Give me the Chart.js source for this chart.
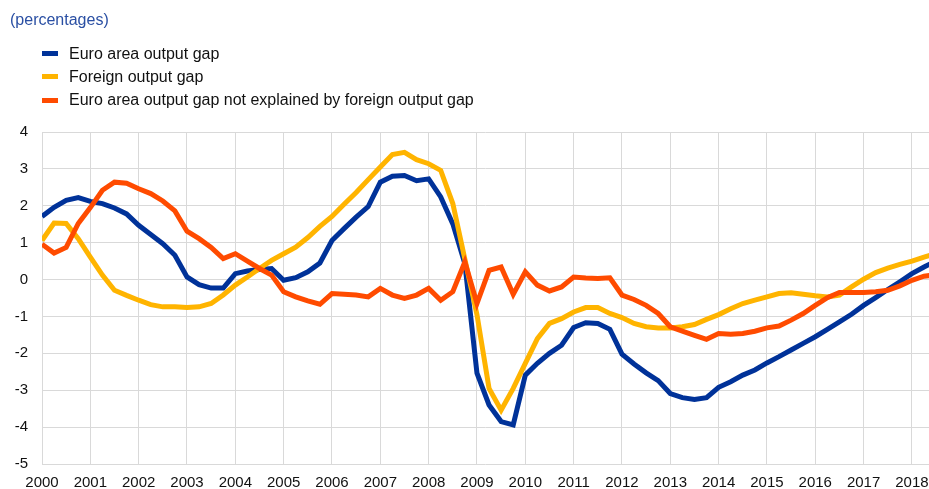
<!DOCTYPE html>
<html>
<head>
<meta charset="utf-8">
<script src="https://cdn.jsdelivr.net/npm/chart.js@4/dist/chart.umd.min.js"></script>
<style>
  html, body { margin: 0; padding: 0; background: #fff; }
  #wrap { position: relative; width: 929px; height: 489px; overflow: hidden; font-family: "Liberation Sans", Arial, sans-serif; }
  #unit { position: absolute; left: 10px; top: 11px; font-size: 16px; color: #2a4fa3; }
  #legend { position: absolute; left: 42px; top: 42px; font-size: 16px; color: #111; }
  #legend .item { height: 23.3px; display: flex; align-items: center; white-space: nowrap; }
  #legend .swatch { width: 16px; height: 5px; margin-right: 11px; }
  canvas { position: absolute; left: 0; top: 0; }
</style>
</head>
<body>
<div id="wrap">
  <canvas id="chart" width="929" height="489"></canvas>
  <div id="unit">(percentages)</div>
  <div id="legend"></div>
</div>
<script>
// Quarterly observations, 2000 Q1 to 2018 Q3
const firstYear = 2000;
const quarters = [];
for (let y = 2000; y <= 2018; y++) {
  for (let q = 1; q <= 4; q++) {
    if (y === 2018 && q > 3) break;
    quarters.push(y + 'Q' + q);
  }
}

const seriesNames = [
  'Euro area output gap',
  'Foreign output gap',
  'Euro area output gap not explained by foreign output gap'
];

const euroAreaGap = [
  1.71, 1.96, 2.15, 2.22, 2.12, 2.06, 1.94, 1.78, 1.47, 1.22, 0.97, 0.66,
  0.07, -0.14, -0.23, -0.23, 0.16, 0.23, 0.27, 0.30, -0.02, 0.05, 0.21, 0.45,
  1.06, 1.38, 1.69, 1.98, 2.64, 2.80, 2.82, 2.68, 2.73, 2.24, 1.51, 0.43,
  -2.54, -3.40, -3.85, -3.94, -2.59, -2.27, -2.00, -1.78, -1.30, -1.17, -1.19, -1.35,
  -2.02, -2.29, -2.53, -2.74, -3.09, -3.20, -3.25, -3.20, -2.92, -2.77, -2.59, -2.45,
  -2.26, -2.09, -1.91, -1.73, -1.55, -1.35, -1.15, -0.94, -0.70, -0.49, -0.27, -0.06,
  0.16, 0.34, 0.50
];

const foreignGap = [
  1.06, 1.53, 1.52, 1.11, 0.61, 0.12, -0.29, -0.43, -0.56, -0.68, -0.74, -0.74,
  -0.76, -0.74, -0.65, -0.42, -0.15, 0.07, 0.30, 0.52, 0.70, 0.88, 1.14, 1.44,
  1.71, 2.04, 2.36, 2.71, 3.05, 3.39, 3.45, 3.25, 3.14, 2.96, 2.06, 0.55,
  -0.95, -2.95, -3.54, -2.95, -2.27, -1.60, -1.19, -1.06, -0.88, -0.76, -0.76, -0.92,
  -1.03, -1.19, -1.28, -1.31, -1.31, -1.28, -1.22, -1.08, -0.95, -0.79, -0.65, -0.56,
  -0.47, -0.38, -0.36, -0.40, -0.44, -0.47, -0.42, -0.20, 0.01, 0.19, 0.31, 0.41,
  0.50, 0.61, 0.70
];

const unexplainedGap = [
  0.96, 0.72, 0.87, 1.52, 1.95, 2.42, 2.64, 2.61, 2.46, 2.33, 2.13, 1.86,
  1.31, 1.11, 0.87, 0.57, 0.70, 0.50, 0.30, 0.12, -0.33, -0.47, -0.58, -0.67,
  -0.38, -0.40, -0.42, -0.47, -0.24, -0.42, -0.51, -0.42, -0.24, -0.56, -0.33, 0.48,
  -0.65, 0.25, 0.34, -0.40, 0.21, -0.15, -0.31, -0.20, 0.07, 0.04, 0.03, 0.05,
  -0.42, -0.54, -0.70, -0.92, -1.28, -1.40, -1.51, -1.62, -1.46, -1.48, -1.46, -1.40,
  -1.31, -1.26, -1.10, -0.92, -0.70, -0.49, -0.35, -0.35, -0.35, -0.33, -0.29, -0.17,
  -0.02, 0.09, 0.13
];

const colors = ['#003299', '#ffb400', '#ff4b00'];

// quarter label -> decimal year on the time axis
function quarterToYear(label) {
  const y = parseInt(label.slice(0, 4), 10);
  const q = parseInt(label.slice(5), 10);
  return y + (q - 1) / 4;
}
function toPoints(values) {
  return values.map((v, i) => ({ x: quarterToYear(quarters[i]), y: v }));
}

const fontFamily = '"Liberation Sans", Arial, sans-serif';

const chart = new Chart(document.getElementById('chart'), {
  type: 'line',
  data: {
    datasets: [
      { label: seriesNames[0], data: toPoints(euroAreaGap), borderColor: colors[0], backgroundColor: colors[0], order: 2 },
      { label: seriesNames[1], data: toPoints(foreignGap), borderColor: colors[1], backgroundColor: colors[1], order: 1 },
      { label: seriesNames[2], data: toPoints(unexplainedGap), borderColor: colors[2], backgroundColor: colors[2], order: 0 }
    ]
  },
  options: {
    responsive: false,
    animation: false,
    clip: 0,
    layout: { padding: { top: 132, left: 0, right: 0, bottom: 0 } },
    elements: {
      line: { borderWidth: 5, tension: 0, fill: false },
      point: { radius: 0, hoverRadius: 0 }
    },
    plugins: { legend: { display: false }, tooltip: { enabled: false } },
    scales: {
      x: {
        type: 'linear',
        min: firstYear,
        max: 2018.353,
        border: { display: false },
        grid: { color: '#d9d9d9', lineWidth: 1, drawTicks: false },
        ticks: {
          stepSize: 1,
          includeBounds: false,
          maxRotation: 0,
          autoSkip: false,
          padding: 10,
          color: '#111',
          font: { family: fontFamily, size: 15 },
          callback: v => String(v)
        },
        afterFit: s => { s.height = 25; s.paddingLeft = 0; s.paddingRight = 0; }
      },
      y: {
        min: -5,
        max: 4,
        border: { display: false },
        grid: { color: '#d9d9d9', lineWidth: 1, drawTicks: false },
        ticks: {
          stepSize: 1,
          padding: 14,
          color: '#111',
          font: { family: fontFamily, size: 15 },
          callback: v => String(v)
        },
        afterFit: s => { s.width = 42; }
      }
    }
  }
});

// Legend list built from the chart's own datasets
const legendEl = document.getElementById('legend');
chart.data.datasets.forEach(ds => {
  const item = document.createElement('div');
  item.className = 'item';
  const sw = document.createElement('span');
  sw.className = 'swatch';
  sw.style.background = ds.borderColor;
  const txt = document.createElement('span');
  txt.textContent = ds.label;
  item.appendChild(sw);
  item.appendChild(txt);
  legendEl.appendChild(item);
});
</script>
</body>
</html>
